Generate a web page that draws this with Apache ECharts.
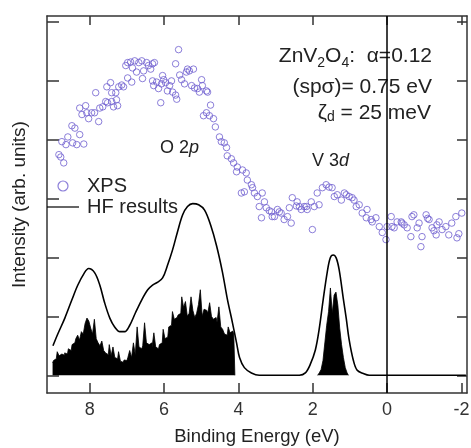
<!DOCTYPE html>
<html>
<head>
<meta charset="utf-8">
<script src="https://cdn.jsdelivr.net/npm/echarts@6/dist/echarts.min.js"></script>
<style>html,body{margin:0;padding:0;background:#fff;}#c{width:471px;height:448px;}</style>
</head>
<body>
<div id="c"></div>
<script>
// ---- data ----
var xTicks = [-2, 0, 2, 4, 6, 8];
var yTicks = [0, 1, 2, 3, 4, 5, 6];

// XPS spectrum: [binding energy (eV), intensity]
var xpsPoints = [
[8.83,3.74],[8.78,3.70],[8.70,3.60],[8.75,3.96],[8.64,3.91],[8.59,4.04],[8.46,3.94],[8.35,3.91],[8.27,4.08],[8.16,3.92],
[8.48,4.23],[8.40,4.19],[8.27,4.53],[8.21,4.42],[8.11,4.57],[8.08,4.45],[8.03,4.35],[7.95,4.45],[7.87,4.45],[7.84,4.79],
[7.76,4.30],[7.73,4.53],[7.65,4.55],[7.57,4.64],[7.52,4.62],[7.41,4.64],[7.36,4.55],[7.28,4.67],[7.25,4.57],[7.54,4.89],
[7.44,4.96],[7.41,4.79],[7.30,4.79],[7.22,4.89],[7.14,4.92],[7.09,4.89],[6.98,5.04],[6.87,4.97],[7.03,5.25],[6.98,5.30],
[6.90,5.31],[6.85,5.21],[6.79,5.33],[6.74,5.14],[6.68,5.30],[6.60,5.33],[6.58,5.03],[6.55,5.16],[6.47,5.30],[6.42,5.25],
[6.36,5.19],[6.31,5.28],[6.26,5.30],[6.31,4.99],[6.28,4.91],[6.20,4.97],[6.15,4.86],[6.09,4.62],[6.07,4.94],[6.04,5.08],
[6.01,5.01],[5.96,4.96],[5.91,4.82],[5.85,4.91],[5.80,4.99],[5.77,4.80],[5.69,4.75],[5.66,4.68],[5.69,5.28],[5.61,5.52],
[5.58,5.09],[5.53,5.01],[5.45,4.94],[5.40,5.14],[5.37,5.19],[5.32,5.16],[5.21,5.19],[5.26,4.91],[5.18,4.87],[5.10,4.86],
[5.05,4.80],[4.99,5.01],[4.97,4.91],[4.86,4.82],[4.83,4.80],[4.94,4.40],[4.86,4.45],[4.78,4.40],[4.75,4.58],[4.67,4.35],
[4.62,4.21],[4.51,4.04],[4.46,3.96],[4.38,3.94],[4.32,3.86],[4.30,3.72],[4.19,3.67],[4.13,3.60],[4.05,3.45],
[4.03,3.53],[3.89,3.48],[3.79,3.43],[3.76,3.31],[3.65,3.23],[3.62,3.18],[3.57,3.09],[3.92,3.09],[3.84,3.11],[3.49,3.03],
[3.36,3.09],[3.30,2.94],[3.44,2.86],[3.25,2.84],[3.17,2.79],[3.11,2.77],[3.09,2.69],[3.38,2.67],[3.03,2.69],[2.95,2.81],
[2.90,2.77],[2.85,2.75],[2.77,2.64],[2.68,2.69],[2.63,2.84],[2.58,2.58],[2.55,3.01],[2.44,2.87],[2.42,2.94],[2.36,2.86],
[2.31,2.81],[2.23,2.86],[2.17,2.86],[2.15,2.81],[2.04,2.94],[2.01,2.47],[1.96,2.86],[1.88,3.09],[1.83,2.89],[1.74,3.18],
[1.64,3.23],[1.56,3.19],[1.48,3.18],[1.42,3.03],[1.34,3.06],[1.23,2.97],[1.15,3.09],[1.10,3.06],[1.02,3.03],[0.94,3.01],
[0.89,2.97],[0.83,2.86],[0.75,2.89],[0.67,2.75],[0.56,2.67],[0.54,2.81],[0.43,2.64],[0.40,2.60],[0.30,2.67],[0.21,2.52],
[0.13,2.42],[0.03,2.30],[0.00,2.52],[-0.11,2.69],[-0.13,2.52],[-0.19,2.50],[-0.27,2.60],[-0.38,2.60],[-0.40,2.58],[-0.46,2.55],
[-0.54,2.50],[-0.64,2.35],[-0.67,2.69],[-0.72,2.72],[-0.81,2.50],[-0.86,2.58],[-0.91,2.18],[-0.94,2.35],[-1.05,2.72],[-1.09,2.66],
[-1.13,2.64],[-1.21,2.50],[-1.26,2.45],[-1.32,2.38],[-1.34,2.55],[-1.40,2.60],[-1.48,2.47],[-1.58,2.52],[-1.66,2.38],[-1.74,2.58],
[-1.85,2.69],[-1.88,2.33],[-1.93,2.40],[-2.01,2.75]
];

// HF results (broadened): [binding energy (eV), intensity]
var hfCurve = [
[-2.12,0.0],[0.48,0.0],[0.64,0.03],[0.81,0.09],[0.91,0.26],[1.02,0.60],[1.10,0.97],[1.18,1.31],[1.29,1.79],[1.37,1.99],
[1.45,2.04],[1.53,1.99],[1.61,1.75],[1.72,1.28],[1.83,0.77],[1.93,0.43],[2.07,0.18],[2.20,0.04],[2.36,0.0],[3.44,0.0],
[3.65,0.04],[3.84,0.13],[3.97,0.30],[4.05,0.55],[4.16,0.89],[4.30,1.30],[4.43,1.75],[4.59,2.20],[4.75,2.55],[4.91,2.80],
[5.07,2.89],[5.23,2.91],[5.37,2.86],[5.50,2.72],[5.64,2.43],[5.77,2.13],[5.91,1.86],[6.04,1.65],[6.17,1.58],[6.31,1.53],
[6.44,1.45],[6.60,1.28],[6.77,1.06],[6.93,0.84],[7.06,0.74],[7.19,0.74],[7.33,0.82],[7.46,0.97],[7.60,1.23],[7.73,1.53],
[7.87,1.74],[8.03,1.81],[8.16,1.72],[8.32,1.53],[8.48,1.28],[8.67,0.97],[8.86,0.70],[8.99,0.50]
];

// HF discrete spectrum (sticks), O 2p region
var dosO2p = [
[9.00,0.21],[8.95,0.25],[8.90,0.28],[8.85,0.40],[8.80,0.33],[8.75,0.36],[8.70,0.34],[8.65,0.38],[8.60,0.36],[8.55,0.45],
[8.50,0.42],[8.45,0.52],[8.40,0.55],[8.35,0.62],[8.30,0.68],[8.25,0.60],[8.20,0.74],[8.15,0.70],[8.10,0.88],[8.05,0.97],
[8.00,0.92],[7.95,0.80],[7.90,0.70],[7.85,0.95],[7.80,0.62],[7.75,0.55],[7.70,0.50],[7.65,0.58],[7.60,0.42],[7.55,0.38],
[7.50,0.35],[7.45,0.52],[7.40,0.33],[7.35,0.48],[7.30,0.30],[7.25,0.28],[7.20,0.40],[7.15,0.24],[7.10,0.22],[7.05,0.26],
[7.00,0.25],[6.95,0.30],[6.90,0.42],[6.85,0.30],[6.80,0.55],[6.75,0.35],[6.70,0.82],[6.65,0.48],[6.60,0.45],[6.55,0.50],
[6.50,0.89],[6.45,0.55],[6.40,0.52],[6.35,0.55],[6.30,0.47],[6.25,0.72],[6.20,0.48],[6.15,0.45],[6.10,0.52],[6.05,0.55],
[6.00,0.78],[5.95,0.62],[5.90,0.65],[5.85,0.82],[5.80,0.85],[5.75,1.08],[5.70,0.95],[5.65,0.98],[5.60,1.02],[5.55,1.05],
[5.50,1.33],[5.45,1.15],[5.40,1.25],[5.35,1.00],[5.30,1.05],[5.25,1.33],[5.20,1.10],[5.15,0.98],[5.10,1.05],[5.05,1.20],
[5.00,1.45],[4.95,1.00],[4.90,1.12],[4.85,1.10],[4.80,1.05],[4.75,1.23],[4.70,1.00],[4.65,0.95],[4.60,0.98],[4.55,0.90],
[4.50,1.16],[4.45,0.82],[4.40,0.78],[4.35,0.70],[4.30,0.68],[4.25,0.82],[4.20,0.72],[4.15,0.75],[4.10,0.70],[4.09,0.0]
];
// V 3d region
var dosV3d = [
[1.87,0.0],[1.85,0.02],[1.80,0.04],[1.75,0.10],[1.70,0.25],[1.65,0.55],[1.60,0.85],[1.55,1.08],[1.50,1.48],[1.45,1.05],[1.40,1.36],
[1.35,1.41],[1.30,1.19],[1.25,0.80],[1.20,0.52],[1.15,0.30],[1.10,0.13],[1.05,0.04],[1.03,0.0]
];

// ---- chart ----
var FONT = '"Liberation Sans", Arial, sans-serif';
var TXT = '#222';
var AX = '#333';
var XPS_COLOR = '#6f5fd0';

var chart = echarts.init(document.getElementById('c'), null, {renderer: 'canvas'});

function xAxisCfg(pos, showLabel) {
  return {
    type: 'value', position: pos, inverse: true, min: -2.15, max: 9.15,
    axisLine: {show: true, onZero: false, lineStyle: {color: AX, width: 1.5}},
    axisTick: {show: true, inside: true, length: pos === 'top' ? 9 : 10, customValues: xTicks,
               lineStyle: {color: AX, width: 1.5}},
    axisLabel: {show: showLabel, customValues: xTicks, margin: 8, fontSize: 18, color: '#333', fontFamily: FONT},
    splitLine: {show: false}
  };
}
function yAxisCfg(pos) {
  return {
    type: 'value', position: pos, min: -0.3, max: 6.09,
    axisLine: {show: true, onZero: false, lineStyle: {color: AX, width: 1.5}},
    axisTick: {show: true, inside: true, length: pos === 'left' ? 12 : 10, customValues: yTicks,
               lineStyle: {color: AX, width: 1.5}},
    axisLabel: {show: false},
    splitLine: {show: false}
  };
}
function stickSeries(name, data) {
  return {
    name: name, type: 'line', xAxisIndex: 0, yAxisIndex: 0, data: data,
    step: 'middle', showSymbol: false, symbol: 'none', silent: true,
    lineStyle: {color: '#000', width: 0.8},
    areaStyle: {color: '#000', opacity: 1, origin: 0}
  };
}

var xb = xAxisCfg('bottom', true);
xb.name = 'Binding Energy (eV)';
xb.nameLocation = 'middle';
xb.nameGap = 34;
xb.nameTextStyle = {fontSize: 18.5, color: TXT, fontFamily: FONT};
var yl = yAxisCfg('left');
yl.name = 'Intensity (arb. units)';
yl.nameLocation = 'middle';
yl.nameGap = 18;
yl.nameTextStyle = {fontSize: 19, color: TXT, fontFamily: FONT};

var option = {
  animation: false,
  backgroundColor: '#fff',
  textStyle: {fontFamily: FONT},
  grid: {left: 47, top: 16, width: 420, height: 377, containLabel: false, outerBoundsMode: 'none'},
  xAxis: [xb, xAxisCfg('top', false)],
  yAxis: [yl, yAxisCfg('right')],
  legend: {
    orient: 'vertical', left: 47, top: 176, padding: 0, itemGap: 1,
    itemWidth: 32, itemHeight: 10,
    textStyle: {fontSize: 20, color: TXT, fontFamily: FONT, padding: [0, 0, 0, 3]},
    data: [
      {name: 'XPS', icon: 'circle', itemStyle: {color: 'transparent', borderColor: XPS_COLOR, borderWidth: 1.2}},
      {name: 'HF results', icon: 'path://M0,4.4H32V5.6H0Z', itemStyle: {color: '#000', borderWidth: 0}}
    ]
  },
  series: [
    stickSeries('O2p sticks', dosO2p),
    stickSeries('V3d sticks', dosV3d),
    {
      name: 'HF results', type: 'line', xAxisIndex: 0, yAxisIndex: 0,
      data: hfCurve, smooth: 0.35, showSymbol: false, symbol: 'none',
      lineStyle: {color: '#000', width: 1.6}, itemStyle: {color: '#000'},
      markLine: {
        silent: true, symbol: ['none', 'none'], label: {show: false},
        lineStyle: {color: '#000', width: 1.5, type: 'solid'},
        data: [{xAxis: 0}]
      }
    },
    {
      name: 'XPS', type: 'scatter', xAxisIndex: 0, yAxisIndex: 0,
      data: xpsPoints, symbol: 'circle', symbolSize: 6.5,
      itemStyle: {color: 'transparent', borderColor: XPS_COLOR, borderWidth: 1}
    }
  ],
  graphic: [
    {type: 'text', x: 432, y: 56, style: {
      text: 'ZnV{s|2}O{s|4}:  α=0.12', align: 'right', verticalAlign: 'middle',
      fontSize: 21, fontFamily: FONT, fill: TXT,
      rich: {s: {fontSize: 14, fontFamily: FONT, fill: TXT, padding: [14, 0, 0, 0]}}
    }},
    {type: 'text', x: 432, y: 87, style: {
      text: '(spσ)= 0.75 eV', align: 'right', verticalAlign: 'middle',
      fontSize: 21, fontFamily: FONT, fill: TXT
    }},
    {type: 'text', x: 431, y: 113, style: {
      text: 'ζ{s|d} = 25 meV', align: 'right', verticalAlign: 'middle',
      fontSize: 21, fontFamily: FONT, fill: TXT,
      rich: {s: {fontSize: 14, fontFamily: FONT, fill: TXT, padding: [8, 0, 0, 0]}}
    }},
    {type: 'text', x: 160, y: 148, style: {
      text: 'O 2{i|p}', align: 'left', verticalAlign: 'middle',
      fontSize: 18, fontFamily: FONT, fill: TXT,
      rich: {i: {fontSize: 18, fontStyle: 'italic', fontFamily: FONT, fill: TXT}}
    }},
    {type: 'text', x: 312, y: 161, style: {
      text: 'V 3{i|d}', align: 'left', verticalAlign: 'middle',
      fontSize: 18, fontFamily: FONT, fill: TXT,
      rich: {i: {fontSize: 18, fontStyle: 'italic', fontFamily: FONT, fill: TXT}}
    }}
  ]
};
chart.setOption(option);
</script>
</body>
</html>
